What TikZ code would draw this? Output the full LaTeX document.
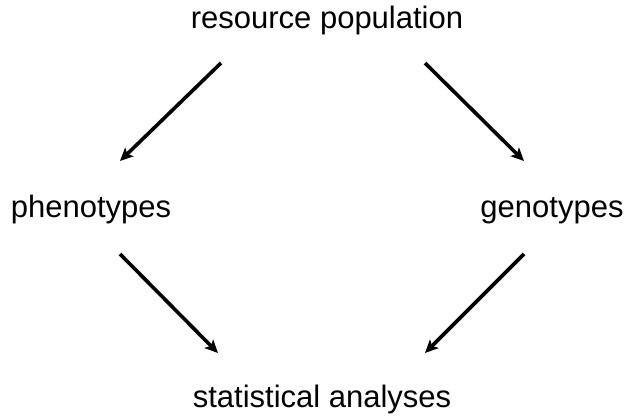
\documentclass[tikz,border=0pt]{standalone}
\usepackage{fontspec}
\setmainfont{Liberation Sans}
\usetikzlibrary{arrows.meta}
\begin{document}
\begin{tikzpicture}[x=1pt,y=-1pt,
  lbl/.style={anchor=base,inner sep=0pt,font=\fontsize{31}{36}\selectfont},
  arr/.style={line width=3.6pt,-{Stealth[length=13pt,width=12pt,inset=3pt]}}]
\useasboundingbox (0,0) rectangle (626,418);
\node[lbl] (res) at (327,28) {resource population};
\node[lbl] (phe) at (91,217) {phenotypes};
\node[lbl] (gen) at (552,217) {genotypes};
\node[lbl] (sta) at (322,407) {statistical analyses};
\coordinate (r1) at (221,63);
\coordinate (p1) at (120,161);
\coordinate (r2) at (425,63);
\coordinate (g1) at (524,161);
\coordinate (p2) at (120,254);
\coordinate (s1) at (218,353);
\coordinate (g2) at (524,254);
\coordinate (s2) at (425,353);
\draw[arr] (r1) -- (p1);
\draw[arr] (r2) -- (g1);
\draw[arr] (p2) -- (s1);
\draw[arr] (g2) -- (s2);
\end{tikzpicture}
\end{document}
